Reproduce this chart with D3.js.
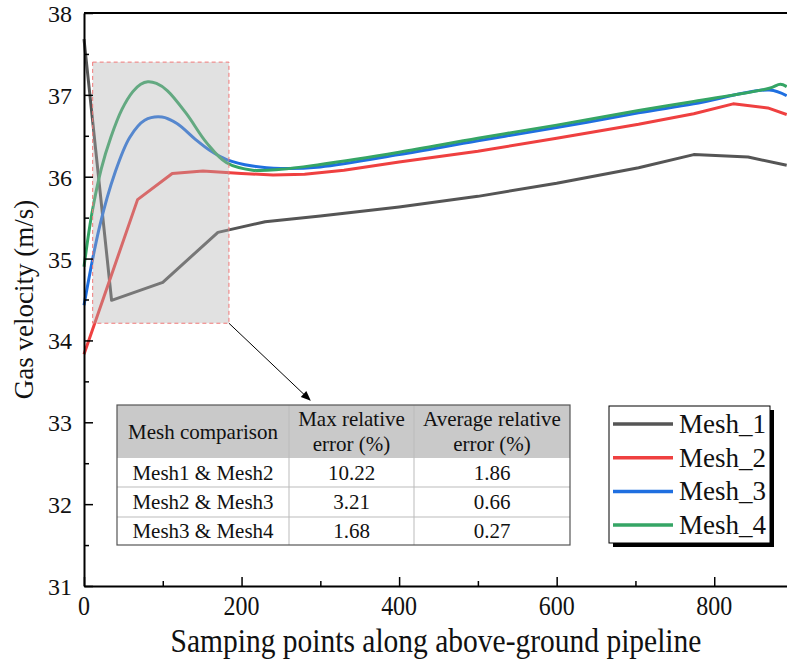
<!DOCTYPE html>
<html>
<head>
<meta charset="utf-8">
<script src="https://cdn.jsdelivr.net/npm/d3@7"></script>
<style>
  body { margin: 0; background: #fff; }
  svg text { font-family: "Liberation Serif", "DejaVu Serif", serif; fill: #111; }
</style>
</head>
<body>
<svg id="chart" width="787" height="664"></svg>
<script>
// --- data ---
var seriesNames = ["Mesh_1", "Mesh_2", "Mesh_3", "Mesh_4"];
var seriesColors = ["#555555", "#ef4040", "#1f6fe0", "#35a565"];

var xMesh1 = [0, 35, 100, 170, 230, 300, 400, 500, 600, 704, 774, 843, 892];
var yMesh1 = [37.68, 34.49, 34.71, 35.32, 35.45, 35.52, 35.63, 35.76, 35.92, 36.11, 36.27, 36.24, 36.14];

var xMesh2 = [0, 68, 112, 151, 200, 240, 280, 330, 400, 500, 600, 704, 774, 824, 868, 892];
var yMesh2 = [33.83, 35.72, 36.04, 36.07, 36.04, 36.02, 36.03, 36.08, 36.18, 36.31, 36.47, 36.64, 36.77, 36.89, 36.84, 36.76];

var xMesh3 = [0, 20, 39, 58, 77, 99, 118, 141, 160, 181, 214, 250, 300, 400, 500, 600, 704, 774, 870, 892];
var yMesh3 = [34.43, 35.4, 36.04, 36.48, 36.69, 36.73, 36.65, 36.46, 36.32, 36.21, 36.13, 36.10, 36.12, 36.27, 36.44, 36.60, 36.78, 36.89, 37.06, 36.99];

var xMesh4 = [0, 10, 22, 34, 48, 62, 72, 81, 92, 106, 130, 156, 181, 214, 250, 300, 400, 500, 600, 704, 774, 870, 884, 892];
var yMesh4 = [34.90, 35.55, 36.10, 36.48, 36.82, 37.04, 37.13, 37.16, 37.14, 37.05, 36.77, 36.41, 36.17, 36.08, 36.09, 36.15, 36.30, 36.47, 36.63, 36.81, 36.92, 37.08, 37.13, 37.10];

var xTicks = [0, 200, 400, 600, 800];
var xMinor = [100, 300, 500, 700];
var yTicks = [31, 32, 33, 34, 35, 36, 37, 38];
var yMinor = [31.5, 32.5, 33.5, 34.5, 35.5, 36.5, 37.5];

// zoom box in data units (x0, x1, yLow, yHigh) and arrow end
var zoomBox = [11, 184, 34.21, 37.4];
var arrowEnd = [287, 33.27];

var tableHead = ["Mesh comparison", ["Max relative", "error (%)"], ["Average relative", "error (%)"]];
var tablePairs = ["Mesh1 & Mesh2", "Mesh2 & Mesh3", "Mesh3 & Mesh4"];
var tableMax = ["10.22", "3.21", "1.68"];
var tableAvg = ["1.86", "0.66", "0.27"];

// --- setup ---
var svg = d3.select("#chart");
var plotLeft = 84, plotRight = 793, plotTop = 13, plotBottom = 586;

var x = d3.scaleLinear().domain([0, 900]).range([plotLeft, plotRight]);
var y = d3.scaleLinear().domain([31, 38]).range([plotBottom, plotTop]);

var smooth = d3.curveCatmullRom.alpha(0.5);
var series = [
    {name: seriesNames[0], color: seriesColors[0], xs: xMesh1, ys: yMesh1, curve: d3.curveLinear},
    {name: seriesNames[1], color: seriesColors[1], xs: xMesh2, ys: yMesh2, curve: d3.curveLinear},
    {name: seriesNames[2], color: seriesColors[2], xs: xMesh3, ys: yMesh3, curve: smooth},
    {name: seriesNames[3], color: seriesColors[3], xs: xMesh4, ys: yMesh4, curve: smooth}
];

// lines
series.forEach(function(s) {
    var pts = s.xs.map(function(v, i) { return [v, s.ys[i]]; });
    var line = d3.line()
        .x(function(d) { return x(d[0]); })
        .y(function(d) { return y(d[1]); })
        .curve(s.curve);
    svg.append("path")
        .datum(pts)
        .attr("d", line)
        .attr("fill", "none")
        .attr("stroke", s.color)
        .attr("stroke-width", 3)
        .attr("stroke-linejoin", "round");
});

// shaded zoom box on top of the lines
svg.append("rect")
    .attr("x", x(zoomBox[0]))
    .attr("y", y(zoomBox[3]))
    .attr("width", x(zoomBox[1]) - x(zoomBox[0]))
    .attr("height", y(zoomBox[2]) - y(zoomBox[3]))
    .attr("fill", "#b0b0b0")
    .attr("fill-opacity", 0.38)
    .attr("stroke", "#f07878")
    .attr("stroke-dasharray", "4,3")
    .attr("stroke-width", 1);

// arrow
svg.append("defs").append("marker")
    .attr("id", "arrow")
    .attr("viewBox", "0 0 10 10")
    .attr("refX", 9).attr("refY", 5)
    .attr("markerWidth", 12).attr("markerHeight", 10)
    .attr("markerUnits", "userSpaceOnUse")
    .attr("orient", "auto")
    .append("path")
    .attr("d", "M0,1 L10,5 L0,9 z")
    .attr("fill", "#000");

svg.append("line")
    .attr("x1", x(zoomBox[1])).attr("y1", y(zoomBox[2]))
    .attr("x2", x(arrowEnd[0])).attr("y2", y(arrowEnd[1]))
    .attr("stroke", "#000")
    .attr("stroke-width", 1)
    .attr("marker-end", "url(#arrow)");

// axes (ticks point inwards)
svg.append("g")
    .attr("transform", "translate(0," + plotBottom + ")")
    .call(d3.axisBottom(x).tickValues(xTicks).tickSizeInner(-9).tickSizeOuter(0).tickFormat(""))
    .call(function(g) { g.select(".domain").attr("stroke-width", 2); g.selectAll("line").attr("stroke-width", 1.5); });

svg.append("g")
    .attr("transform", "translate(0," + plotBottom + ")")
    .call(d3.axisBottom(x).tickValues(xMinor).tickSizeInner(-5).tickSizeOuter(0).tickFormat(""))
    .call(function(g) { g.select(".domain").remove(); g.selectAll("line").attr("stroke-width", 1.5); });

svg.append("g")
    .attr("transform", "translate(" + plotLeft + ",0)")
    .call(d3.axisLeft(y).tickValues(yTicks).tickSizeInner(-9).tickSizeOuter(0).tickFormat(""))
    .call(function(g) { g.select(".domain").attr("stroke-width", 2); g.selectAll("line").attr("stroke-width", 1.5); });

svg.append("g")
    .attr("transform", "translate(" + plotLeft + ",0)")
    .call(d3.axisLeft(y).tickValues(yMinor).tickSizeInner(-5).tickSizeOuter(0).tickFormat(""))
    .call(function(g) { g.select(".domain").remove(); g.selectAll("line").attr("stroke-width", 1.5); });

// top frame line
svg.append("line")
    .attr("x1", plotLeft).attr("x2", plotRight)
    .attr("y1", plotTop).attr("y2", plotTop)
    .attr("stroke", "#000").attr("stroke-width", 2);

// tick labels
svg.selectAll(".xlab").data(xTicks).enter().append("text")
    .attr("class", "xlab")
    .attr("transform", function(d) { return "translate(" + x(d) + "," + (plotBottom + 29) + ") scale(1,1.12)"; })
    .attr("text-anchor", "middle")
    .style("font-size", "24px")
    .text(function(d) { return d; });

svg.selectAll(".ylab").data(yTicks).enter().append("text")
    .attr("class", "ylab")
    .attr("x", plotLeft - 12)
    .attr("y", function(d) { return y(d) + 9; })
    .attr("text-anchor", "end")
    .style("font-size", "24px")
    .text(function(d) { return d; });

// axis titles
svg.append("text")
    .attr("transform", "translate(436,652) scale(1,1.12)")
    .attr("text-anchor", "middle")
    .style("font-size", "29.5px")
    .text("Samping points along above-ground pipeline");

svg.append("text")
    .attr("transform", "translate(33," + ((plotTop + plotBottom) / 2) + ") rotate(-90)")
    .attr("text-anchor", "middle")
    .style("font-size", "27px")
    .text("Gas velocity (m/s)");

// legend
var lg = svg.append("g").attr("transform", "translate(609,406)");
lg.append("rect").attr("x", 4).attr("y", 4).attr("width", 161).attr("height", 137).attr("fill", "#000");
lg.append("rect").attr("x", 0).attr("y", 0).attr("width", 161).attr("height", 137)
    .attr("fill", "#fff").attr("stroke", "#000").attr("stroke-width", 1);
var items = lg.selectAll(".item").data(series).enter().append("g")
    .attr("transform", function(d, i) { return "translate(0," + (18 + i * 33.7) + ")"; });
items.append("line").attr("x1", 4).attr("x2", 64).attr("y1", 0).attr("y2", 0)
    .attr("stroke", function(d) { return d.color; }).attr("stroke-width", 3.5);
items.append("text").attr("x", 70).attr("y", 9)
    .style("font-size", "27px")
    .text(function(d) { return d.name; });

// table
var colX = [117, 289, 414, 570];
var rowY = [405, 458, 487, 517, 545];
var tb = svg.append("g");
tb.append("rect").attr("x", colX[0]).attr("y", rowY[0]).attr("width", colX[3] - colX[0]).attr("height", rowY[1] - rowY[0])
    .attr("fill", "#c9c9c9");
tb.append("rect").attr("x", colX[0]).attr("y", rowY[1]).attr("width", colX[3] - colX[0]).attr("height", rowY[4] - rowY[1])
    .attr("fill", "#fff");
[rowY[2], rowY[3]].forEach(function(ry) {
    tb.append("line").attr("x1", colX[0]).attr("x2", colX[3]).attr("y1", ry).attr("y2", ry)
        .attr("stroke", "#bbb").attr("stroke-width", 1);
});
[colX[1], colX[2]].forEach(function(cx) {
    tb.append("line").attr("x1", cx).attr("x2", cx).attr("y1", rowY[0]).attr("y2", rowY[4])
        .attr("stroke", "#bbb").attr("stroke-width", 1);
});
tb.append("rect").attr("x", colX[0]).attr("y", rowY[0]).attr("width", colX[3] - colX[0]).attr("height", rowY[4] - rowY[0])
    .attr("fill", "none").attr("stroke", "#555").attr("stroke-width", 1.2);

var colMid = [ (colX[0] + colX[1]) / 2, (colX[1] + colX[2]) / 2, (colX[2] + colX[3]) / 2 ];
tb.append("text").attr("x", colMid[0]).attr("y", 439).attr("text-anchor", "middle")
    .style("font-size", "21px").text(tableHead[0]);
[1, 2].forEach(function(c) {
    tableHead[c].forEach(function(t, k) {
        tb.append("text").attr("x", colMid[c]).attr("y", 426 + k * 25).attr("text-anchor", "middle")
            .style("font-size", "21px").text(t);
    });
});
[tablePairs, tableMax, tableAvg].forEach(function(col, c) {
    col.forEach(function(t, r) {
        tb.append("text").attr("x", colMid[c]).attr("y", (rowY[r + 1] + rowY[r + 2]) / 2 + 7)
            .attr("text-anchor", "middle").style("font-size", "21px").text(t);
    });
});
</script>
</body>
</html>
